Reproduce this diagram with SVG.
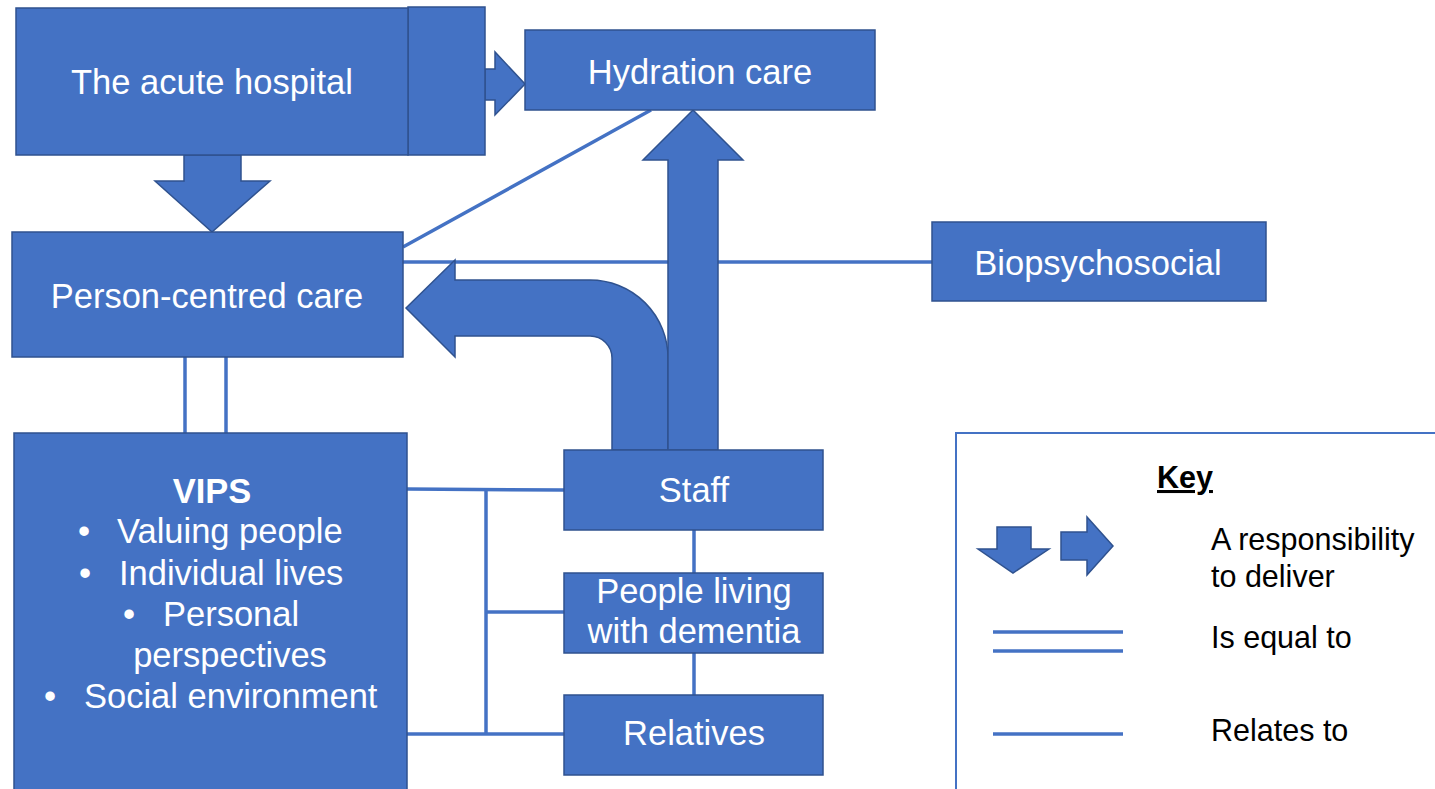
<svg xmlns="http://www.w3.org/2000/svg" width="1435" height="789" viewBox="0 0 1435 789">
  <style>
    .box { fill: #4472C4; stroke: #2F528F; stroke-width: 1.5; }
    .lbl { font-family: "Liberation Sans", Arial, sans-serif; font-size: 34.5px; fill: #ffffff; text-anchor: middle; }
    .lft { font-family: "Liberation Sans", Arial, sans-serif; font-size: 34.5px; fill: #ffffff; }
    .link { stroke: #4472C4; stroke-width: 3.5; fill: none; }
    .key { font-family: "Liberation Sans", Arial, sans-serif; font-size: 30.5px; fill: #000000; }
  </style>

  <rect width="1435" height="789" fill="#ffffff"/>

  <!-- relation lines -->
  <g id="connectors">
    <line class="link" x1="185" y1="357" x2="185" y2="433"/>
    <line class="link" x1="226" y1="357" x2="226" y2="433"/>
    <line class="link" x1="403" y1="247" x2="651" y2="110"/>
    <line class="link" x1="403" y1="262" x2="932" y2="262"/>
    <line class="link" x1="407" y1="489" x2="565" y2="490"/>
    <line class="link" x1="486" y1="489" x2="486" y2="735"/>
    <line class="link" x1="486" y1="612" x2="565" y2="612"/>
    <line class="link" x1="407" y1="734" x2="565" y2="734"/>
    <line class="link" x1="694" y1="529" x2="694" y2="573"/>
    <line class="link" x1="694" y1="652" x2="694" y2="695"/>
  </g>

  <!-- responsibility arrows -->
  <g id="arrow-hospital-pcc">
    <polygon class="box" points="184,155 241,155 241,181 270,181 212,232 155,181 184,181"/>
  </g>
  <g id="arrow-hospital-hydration">
    <polygon class="box" points="485,69 495,69 495,52 525,84 495,115 495,100 485,100"/>
    <rect class="box" x="408" y="7" width="77" height="148"/>
  </g>
  <g id="arrow-staff-pcc">
    <path class="box" d="M406,308 L455,260 L455,280 L590,280 A78,78 0 0 1 668,358 L668,450 L612,450 L612,358 A22,22 0 0 0 590,336 L455,336 L455,357 Z"/>
  </g>
  <g id="arrow-staff-hydration">
    <polygon class="box" points="693,110 743,160 718,160 718,450 668,450 668,160 643,160"/>
  </g>

  <!-- nodes -->
  <g id="hospital">
    <rect class="box" x="16" y="8" width="392" height="147"/>
    <text class="lbl" x="212" y="94">The acute hospital</text>
  </g>
  <g id="hydration">
    <rect class="box" x="525" y="30" width="350" height="80"/>
    <text class="lbl" x="700" y="84">Hydration care</text>
  </g>
  <g id="person-centred">
    <rect class="box" x="12" y="232" width="391" height="125"/>
    <text class="lbl" x="207" y="308">Person-centred care</text>
  </g>
  <g id="biopsychosocial">
    <rect class="box" x="932" y="222" width="334" height="79"/>
    <text class="lbl" x="1098" y="275">Biopsychosocial</text>
  </g>
  <g id="vips">
    <rect class="box" x="14" y="433" width="393" height="370"/>
    <text class="lbl" x="212" y="503" font-weight="bold">VIPS</text>
    <text class="lft" x="78" y="543">•</text>
    <text class="lft" x="117" y="543">Valuing people</text>
    <text class="lft" x="79" y="585">•</text>
    <text class="lft" x="119" y="585">Individual lives</text>
    <text class="lft" x="123" y="626">•</text>
    <text class="lft" x="163" y="626">Personal</text>
    <text class="lbl" x="230" y="667">perspectives</text>
    <text class="lft" x="44" y="708">•</text>
    <text class="lft" x="84" y="708">Social environment</text>
  </g>
  <g id="staff">
    <rect class="box" x="564" y="450" width="259" height="80"/>
    <text class="lbl" x="694" y="502">Staff</text>
  </g>
  <g id="people-dementia">
    <rect class="box" x="564" y="573" width="259" height="80"/>
    <text class="lbl" x="694" y="603">People living</text>
    <text class="lbl" x="694" y="643">with dementia</text>
  </g>
  <g id="relatives">
    <rect class="box" x="564" y="695" width="259" height="80"/>
    <text class="lbl" x="694" y="745">Relatives</text>
  </g>

  <!-- legend -->
  <g id="key">
    <rect x="956" y="433" width="520" height="400" fill="#ffffff" stroke="#4472C4" stroke-width="2"/>
    <text class="key" x="1157" y="488" font-weight="bold" text-decoration="underline" font-size="34">Key</text>
    <polygon class="box" points="997,527 1031,527 1031,549 1049,549 1013,573 978,549 997,549"/>
    <polygon class="box" points="1061,532 1087,532 1087,517 1113,546 1087,575 1087,560 1061,560"/>
    <text class="key" x="1211" y="550">A responsibility</text>
    <text class="key" x="1211" y="587">to deliver</text>
    <line class="link" x1="993" y1="632" x2="1123" y2="632"/>
    <line class="link" x1="993" y1="651" x2="1123" y2="651"/>
    <text class="key" x="1211" y="648">Is equal to</text>
    <line class="link" x1="993" y1="734" x2="1123" y2="734"/>
    <text class="key" x="1211" y="741">Relates to</text>
  </g>
</svg>
